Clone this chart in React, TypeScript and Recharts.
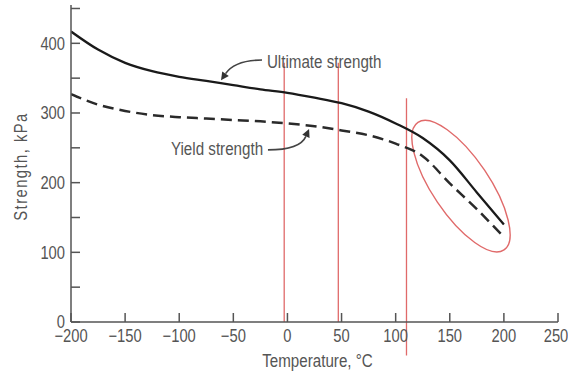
import React from 'react';
import {
  LineChart,
  Line,
  XAxis,
  YAxis,
  ReferenceLine,
  ReferenceArea,
  ReferenceDot,
  Label,
} from 'recharts';

// ---- data ----
const temperatures = [-200, -175, -150, -125, -100, -75, -50, -25, 0, 25, 50, 75, 100, 125, 150, 175, 200];
const ultimateStrength = [417, 391, 372, 360, 352, 346, 340, 334, 329, 322, 314, 302, 285, 264, 232, 186, 140];
const yieldStrength = [327, 312, 303, 297, 294, 292, 290, 288, 285, 281, 275, 268, 256, 238, 199, 162, 122];

const xTicks = [-200, -150, -100, -50, 0, 50, 100, 150, 200, 250];
const yTicks = [0, 50, 100, 150, 200, 250, 300, 350, 400, 450];

const xLabel = 'Temperature, °C';
const yLabel = 'Strength, kPa';
const ultimateLabel = 'Ultimate strength';
const yieldLabel = 'Yield strength';

// annotation anchors (data units)
const ultimateText = { t: -19, v: 364.5 };
const yieldText = { t: -22.5, v: 240 };
const ultimateArrow = [{ x: -23.5, y: 376 }, { x: -61.4, y: 347 }];
const yieldArrow = [{ x: -18, y: 247 }, { x: 20, y: 277 }];
const redMarks = [
  [{ x: -3, y: 372 }, { x: -3, y: 0 }],
  [{ x: 47, y: 372 }, { x: 47, y: 0 }],
  [{ x: 110, y: 321 }, { x: 110, y: -48 }],
];
const ellipseBox = { x1: 115, x2: 205.7, y1: 103, y2: 287 };

const data = temperatures.map((t, i) => ({ t, ult: ultimateStrength[i], yld: yieldStrength[i] }));

const FONT = "'Liberation Sans', Arial, sans-serif";
const TEXT = '#555';
const AXIS = '#555';
const RED = '#e06a6a';
const SX = 0.82; // horizontal squeeze to imitate a condensed face

const minus = (v: number) => String(v).replace('-', '\u2212');

const NarrowText = ({
  x,
  y,
  children,
  anchor = 'start',
  size = 18,
  dy,
  rotate = 0,
  spacing,
}: any) => (
  <text
    transform={`translate(${x}, ${y}) rotate(${rotate}) scale(${SX}, 1)`}
    x={0}
    y={0}
    dy={dy}
    textAnchor={anchor}
    fontFamily={FONT}
    fontSize={size}
    letterSpacing={spacing}
    fill={TEXT}
  >
    {children}
  </text>
);

const XTick = (props: any) => (
  <NarrowText x={props.x} y={props.y} anchor="middle" dy="0.71em" size={18}>
    {minus(props.payload.value)}
  </NarrowText>
);

const YTick = (props: any) =>
  props.payload.value % 100 === 0 ? (
    <NarrowText x={props.x} y={props.y} anchor="end" dy="0.355em" size={18}>
      {String(props.payload.value)}
    </NarrowText>
  ) : (
    <g />
  );

const TextShape = (label: string, anchor: 'start' | 'end') => (props: any) => (
  <NarrowText x={props.cx} y={props.cy} anchor={anchor} size={18.5}>
    {label}
  </NarrowText>
);

const ArrowShape = (f: number) => (props: any) => {
  const { x1, y1, x2, y2 } = props;
  const cx = x2 + f * (x1 - x2);
  const cy = y1;
  const dx = x2 - cx;
  const dy = y2 - cy;
  const len = Math.sqrt(dx * dx + dy * dy) || 1;
  const ux = dx / len;
  const uy = dy / len;
  const hl = 8;
  const hw = 4;
  const bx = x2 - ux * hl;
  const by = y2 - uy * hl;
  return (
    <g>
      <path d={`M${x1},${y1} Q${cx},${cy} ${bx},${by}`} fill="none" stroke="#444" strokeWidth={1.6} />
      <path
        d={`M${x2},${y2} L${bx - uy * hw},${by + ux * hw} L${bx + uy * hw},${by - ux * hw} Z`}
        fill="#333"
      />
    </g>
  );
};

const EllipseShape = (props: any) => {
  const { x, y, width, height } = props;
  const deg = 56;
  const ang = (deg * Math.PI) / 180;
  const k = 0.37;
  const c = Math.cos(ang);
  const s = Math.sin(ang);
  const hw = width / 2;
  const a = hw / Math.sqrt(c * c + k * k * s * s);
  const b = a * k;
  const cxp = x + width / 2;
  const cyp = y + height / 2;
  return (
    <ellipse
      cx={cxp}
      cy={cyp}
      rx={a}
      ry={b}
      transform={`rotate(${deg}, ${cxp}, ${cyp})`}
      fill="none"
      stroke={RED}
      strokeWidth={1.4}
    />
  );
};

export default function App() {
  return (
    <div style={{ position: 'absolute', left: 0, top: 0, background: '#fff' }}>
      <LineChart
        width={568}
        height={376}
        data={data}
        margin={{ top: 5, right: 10, left: 0, bottom: 0 }}
      >
        <XAxis
          type="number"
          dataKey="t"
          domain={[-200, 250]}
          ticks={xTicks}
          tickSize={-9}
          tickMargin={16}
          height={54}
          stroke={AXIS}
          strokeWidth={1.5}
          tick={XTick}
          allowDataOverflow
        >
          <Label
            content={(p: any) => {
              const vb = p.viewBox;
              return (
                <NarrowText x={vb.x + vb.width / 2 + 3} y={vb.y + 45} anchor="middle" size={18.5}>
                  {xLabel}
                </NarrowText>
              );
            }}
          />
        </XAxis>
        <YAxis
          type="number"
          domain={[0, 455]}
          ticks={yTicks}
          tickSize={-9}
          tickMargin={15}
          width={71}
          stroke={AXIS}
          strokeWidth={1.5}
          tick={YTick}
          allowDataOverflow
        >
          <Label
            content={(p: any) => {
              const vb = p.viewBox;
              return (
                <NarrowText
                  x={27}
                  y={vb.y + vb.height / 2 + 3}
                  anchor="middle"
                  size={18}
                  rotate={-90}
                  spacing={1.8}
                >
                  {yLabel}
                </NarrowText>
              );
            }}
          />
        </YAxis>

        {redMarks.map((seg, i) => (
          <ReferenceLine
            key={i}
            segment={seg}
            stroke={RED}
            strokeWidth={1.3}
            ifOverflow="visible"
          />
        ))}
        <ReferenceArea
          x1={ellipseBox.x1}
          x2={ellipseBox.x2}
          y1={ellipseBox.y1}
          y2={ellipseBox.y2}
          shape={EllipseShape}
          ifOverflow="visible"
        />

        <Line
          type="monotone"
          dataKey="ult"
          stroke="#1a1a1a"
          strokeWidth={2.3}
          dot={false}
          isAnimationActive={false}
        />
        <Line
          type="monotone"
          dataKey="yld"
          stroke="#2a2a2a"
          strokeWidth={2.5}
          strokeDasharray="11 6"
          dot={false}
          isAnimationActive={false}
        />

        <ReferenceLine segment={ultimateArrow} shape={ArrowShape(0.34)} ifOverflow="visible" />
        <ReferenceLine segment={yieldArrow} shape={ArrowShape(0.22)} ifOverflow="visible" />
        <ReferenceDot
          x={ultimateText.t}
          y={ultimateText.v}
          r={0}
          shape={TextShape(ultimateLabel, 'start')}
          ifOverflow="visible"
        />
        <ReferenceDot
          x={yieldText.t}
          y={yieldText.v}
          r={0}
          shape={TextShape(yieldLabel, 'end')}
          ifOverflow="visible"
        />
      </LineChart>
    </div>
  );
}
